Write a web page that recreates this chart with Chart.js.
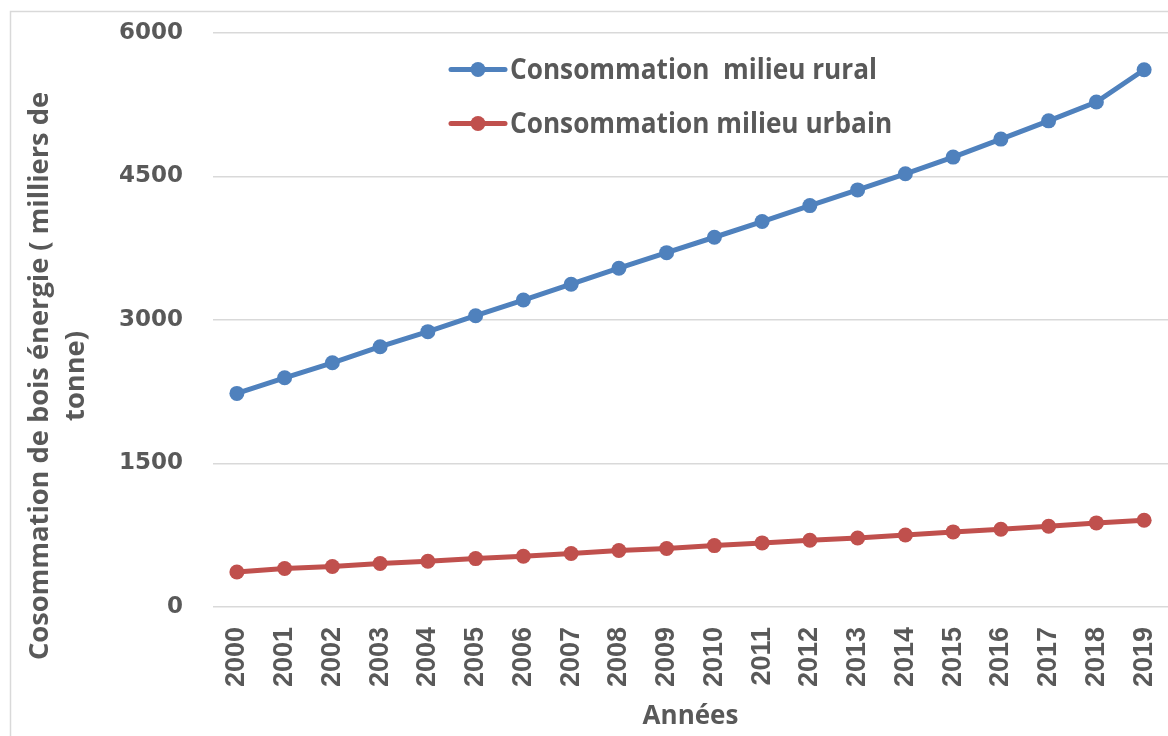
<!DOCTYPE html>
<html>
<head>
<meta charset="utf-8">
<script src="https://cdn.jsdelivr.net/npm/chart.js@4.4.1/dist/chart.umd.min.js"></script>
<style>
  html, body { margin: 0; padding: 0; background: #ffffff; }
  #wrap { position: relative; width: 1168px; height: 736px; }
</style>
</head>
<body>
<div id="wrap"><canvas id="chart" width="1168" height="736"></canvas></div>
<script>
// Consommation de bois énergie, 2000–2019 (milliers de tonnes)
const years = ['2000', '2001', '2002', '2003', '2004', '2005', '2006', '2007', '2008', '2009',
               '2010', '2011', '2012', '2013', '2014', '2015', '2016', '2017', '2018', '2019'];
const rural = [2233, 2396, 2553, 2721, 2878, 3045, 3209, 3374, 3541, 3704,
               3865, 4029, 4196, 4360, 4528, 4703, 4891, 5082, 5278, 5616];
const urbain = [366, 402, 423, 454, 478, 506, 530, 559, 590, 612,
                642, 670, 698, 722, 753, 785, 813, 844, 879, 907];
const seriesNames = ['Consommation  milieu rural', 'Consommation milieu urbain'];
const seriesColors = ['#4F81BD', '#C0504D'];
const yMin = 0, yMax = 6000, yStep = 1500;
const yTitleLines = ['Cosommation de bois énergie ( milliers de', 'tonne)'];
const xTitle = 'Années';

const TEXT = '#595959';
const SANS = '"Open Sans", "Noto Sans", "DejaVu Sans", sans-serif';

// Horizontal squeeze factor so that a text spans a given width
function fittedScale(ctx, text, width) {
  const w = ctx.measureText(text).width;
  return w > 0 ? width / w : 1;
}

// Light frame around the whole figure
const framePlugin = {
  id: 'frame',
  beforeDraw(chart) {
    const ctx = chart.ctx;
    ctx.save();
    ctx.strokeStyle = '#d9d9d9';
    ctx.lineWidth = 1.5;
    ctx.strokeRect(10.5, 11.5, chart.width + 20, chart.height + 20);
    ctx.restore();
  }
};

// Axis titles: two-line rotated title for values, single line for years
const axisTitlePlugin = {
  id: 'axisTitles',
  afterDraw(chart) {
    const ctx = chart.ctx;
    const area = chart.chartArea;
    ctx.save();
    ctx.fillStyle = TEXT;
    ctx.textAlign = 'center';
    ctx.textBaseline = 'middle';
    ctx.font = 'bold 26px ' + SANS;
    const sx = fittedScale(ctx, yTitleLines[0], 568);
    const xs = [41, 77];
    yTitleLines.forEach((line, i) => {
      ctx.save();
      ctx.translate(xs[i], 376);
      ctx.rotate(-Math.PI / 2);
      ctx.scale(sx, 1);
      ctx.fillText(line, 0, 0);
      ctx.restore();
    });
    ctx.font = 'bold 26px ' + SANS;
    ctx.fillText(xTitle, (area.left + area.right) / 2, 717);
    ctx.restore();
  }
};

// Legend drawn inside the plot area, one entry per line
const innerLegendPlugin = {
  id: 'innerLegend',
  afterDraw(chart) {
    const ctx = chart.ctx;
    const area = chart.chartArea;
    const x0 = area.left + 237, y0 = area.top + 36.5, gap = 54;
    ctx.save();
    ctx.font = 'bold 29px ' + SANS;
    const sx = fittedScale(ctx, chart.data.datasets[0].label, 367);
    chart.data.datasets.forEach((ds, i) => {
      const y = y0 + i * gap;
      ctx.strokeStyle = ds.borderColor;
      ctx.lineWidth = 5;
      ctx.lineCap = 'round';
      ctx.beginPath();
      ctx.moveTo(x0 + 1, y);
      ctx.lineTo(x0 + 55, y);
      ctx.stroke();
      ctx.fillStyle = ds.backgroundColor;
      ctx.beginPath();
      ctx.arc(x0 + 28, y, 7.5, 0, Math.PI * 2);
      ctx.fill();
      ctx.save();
      ctx.fillStyle = TEXT;
      ctx.textAlign = 'left';
      ctx.textBaseline = 'middle';
      ctx.translate(x0 + 60, y + 1);
      ctx.scale(sx, 1);
      ctx.fillText(ds.label, 0, 0);
      ctx.restore();
    });
    ctx.restore();
  }
};

const makeDataset = (label, data, color) => ({
  label, data,
  borderColor: color,
  backgroundColor: color,
  borderWidth: 5,
  pointRadius: 7.5,
  pointHoverRadius: 7.5,
  pointBorderWidth: 0,
  tension: 0
});

new Chart(document.getElementById('chart'), {
  type: 'line',
  data: {
    labels: years,
    datasets: [
      makeDataset(seriesNames[0], rural, seriesColors[0]),
      makeDataset(seriesNames[1], urbain, seriesColors[1])
    ]
  },
  options: {
    responsive: false,
    animation: false,
    devicePixelRatio: 1,
    layout: { autoPadding: false, padding: { top: 33, right: 0, bottom: 0, left: 0 } },
    plugins: {
      legend: { display: false },
      tooltip: { enabled: false }
    },
    scales: {
      x: {
        offset: true,
        grid: { display: false, drawTicks: false },
        border: { display: false },
        ticks: {
          color: TEXT,
          font: { family: '"Liberation Sans", Arial, sans-serif', weight: 'bold', size: 27 },
          minRotation: 90,
          maxRotation: 90,
          padding: 20,
          autoSkip: false
        },
        afterFit(scale) {
          scale.height = 129;
          scale.paddingLeft = 0;
          scale.paddingRight = 0;
        }
      },
      y: {
        min: yMin,
        max: yMax,
        grid: { color: '#d9d9d9', lineWidth: 1.5, drawTicks: false },
        border: { display: false },
        ticks: {
          stepSize: yStep,
          color: TEXT,
          font: { family: '"DejaVu Sans", sans-serif', weight: 'bold', size: 23 },
          padding: 30,
          callback: (v) => String(v)
        },
        afterFit(scale) {
          scale.width = 213;
          scale.paddingTop = 0;
          scale.paddingBottom = 0;
        }
      }
    }
  },
  plugins: [framePlugin, axisTitlePlugin, innerLegendPlugin]
});
</script>
</body>
</html>
